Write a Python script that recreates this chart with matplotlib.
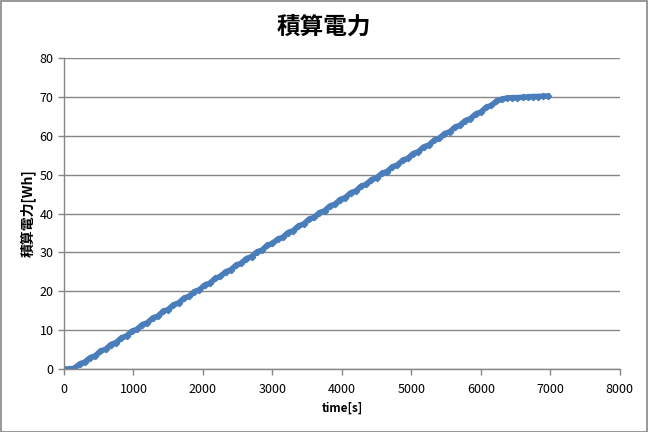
import matplotlib.pyplot as plt
from matplotlib.patches import Rectangle

plt.rcParams['font.family'] = ['Noto Sans CJK JP', 'DejaVu Sans']

# 経過時間 [s]
time_s = [0, 75, 150, 225, 300, 375, 450, 525, 600, 675, 750, 825, 900, 975,
          1050, 1125, 1200, 1275, 1350, 1425, 1500, 1575, 1650, 1725, 1800, 1875,
          1950, 2025, 2100, 2175, 2250, 2325, 2400, 2475, 2550, 2625, 2700, 2775,
          2850, 2925, 3000, 3075, 3150, 3225, 3300, 3375, 3450, 3525, 3600, 3675,
          3750, 3825, 3900, 3975, 4050, 4125, 4200, 4275, 4350, 4425, 4500, 4575,
          4650, 4725, 4800, 4875, 4950, 5025, 5100, 5175, 5250, 5325, 5400, 5475,
          5550, 5625, 5700, 5775, 5850, 5925, 6000, 6075, 6150, 6225, 6300, 6375,
          6450, 6525, 6600, 6675, 6750, 6825, 6900, 6960]

# 積算電力 [Wh]
energy_wh = [0.0, 0.0, 0.2, 1.3, 1.8, 2.9, 3.4, 4.6, 5.1, 6.3, 6.8, 8.0, 8.5, 9.7,
             10.2, 11.4, 11.9, 13.1, 13.6, 14.8, 15.3, 16.5, 17.0, 18.2, 18.7, 19.9,
             20.4, 21.6, 22.1, 23.3, 23.8, 25.0, 25.5, 26.7, 27.2, 28.4, 28.9, 30.1,
             30.6, 31.8, 32.3, 33.4, 33.9, 35.1, 35.6, 36.8, 37.3, 38.5, 39.0, 40.2,
             40.7, 41.9, 42.4, 43.6, 44.1, 45.3, 45.8, 47.0, 47.5, 48.7, 49.2, 50.3,
             50.8, 52.0, 52.5, 53.7, 54.2, 55.4, 55.9, 57.1, 57.6, 58.8, 59.3, 60.5,
             61.0, 62.2, 62.7, 63.9, 64.4, 65.6, 66.1, 67.3, 67.8, 68.9, 69.4, 69.7,
             69.8, 69.8, 69.9, 70.0, 70.1, 70.1, 70.2, 70.2]

x_ticks = [0, 1000, 2000, 3000, 4000, 5000, 6000, 7000, 8000]
y_ticks = [0, 10, 20, 30, 40, 50, 60, 70, 80]

fig = plt.figure(figsize=(6.48, 4.32), dpi=100)
ax = fig.add_axes([0.0988, 0.1458, 0.8577, 0.7199])

ax.plot(time_s, energy_wh, color='#4A7EBB', linewidth=4.0,
        marker='D', markersize=3.2, solid_joinstyle='round')

ax.set_xlim(0, 8000)
ax.set_ylim(0, 80)
ax.set_xticks(x_ticks)
ax.set_yticks(y_ticks)
ax.yaxis.grid(True, color='#868686', linewidth=1.0)
ax.set_axisbelow(True)

for s in ['top', 'right']:
    ax.spines[s].set_visible(False)
for s in ['left', 'bottom']:
    ax.spines[s].set_color('#868686')
    ax.spines[s].set_linewidth(1.0)

ax.tick_params(axis='both', labelsize=9, colors='#868686', labelcolor='black',
               length=4, width=1.0)
ax.tick_params(axis='x', pad=6)

ax.set_xlabel('time[s]', fontsize=8.5, fontweight='bold', labelpad=4)
ax.set_ylabel('積算電力[Wh]', fontsize=10, fontweight='bold', labelpad=3)
fig.suptitle('積算電力', fontsize=17, fontweight='bold', y=0.965)

# 外枠
fig.patches.append(Rectangle((0.001, 0.001), 0.997, 0.997, transform=fig.transFigure,
                             fill=False, edgecolor='#868686', linewidth=1.2))

fig.savefig('out.png', dpi=100)
